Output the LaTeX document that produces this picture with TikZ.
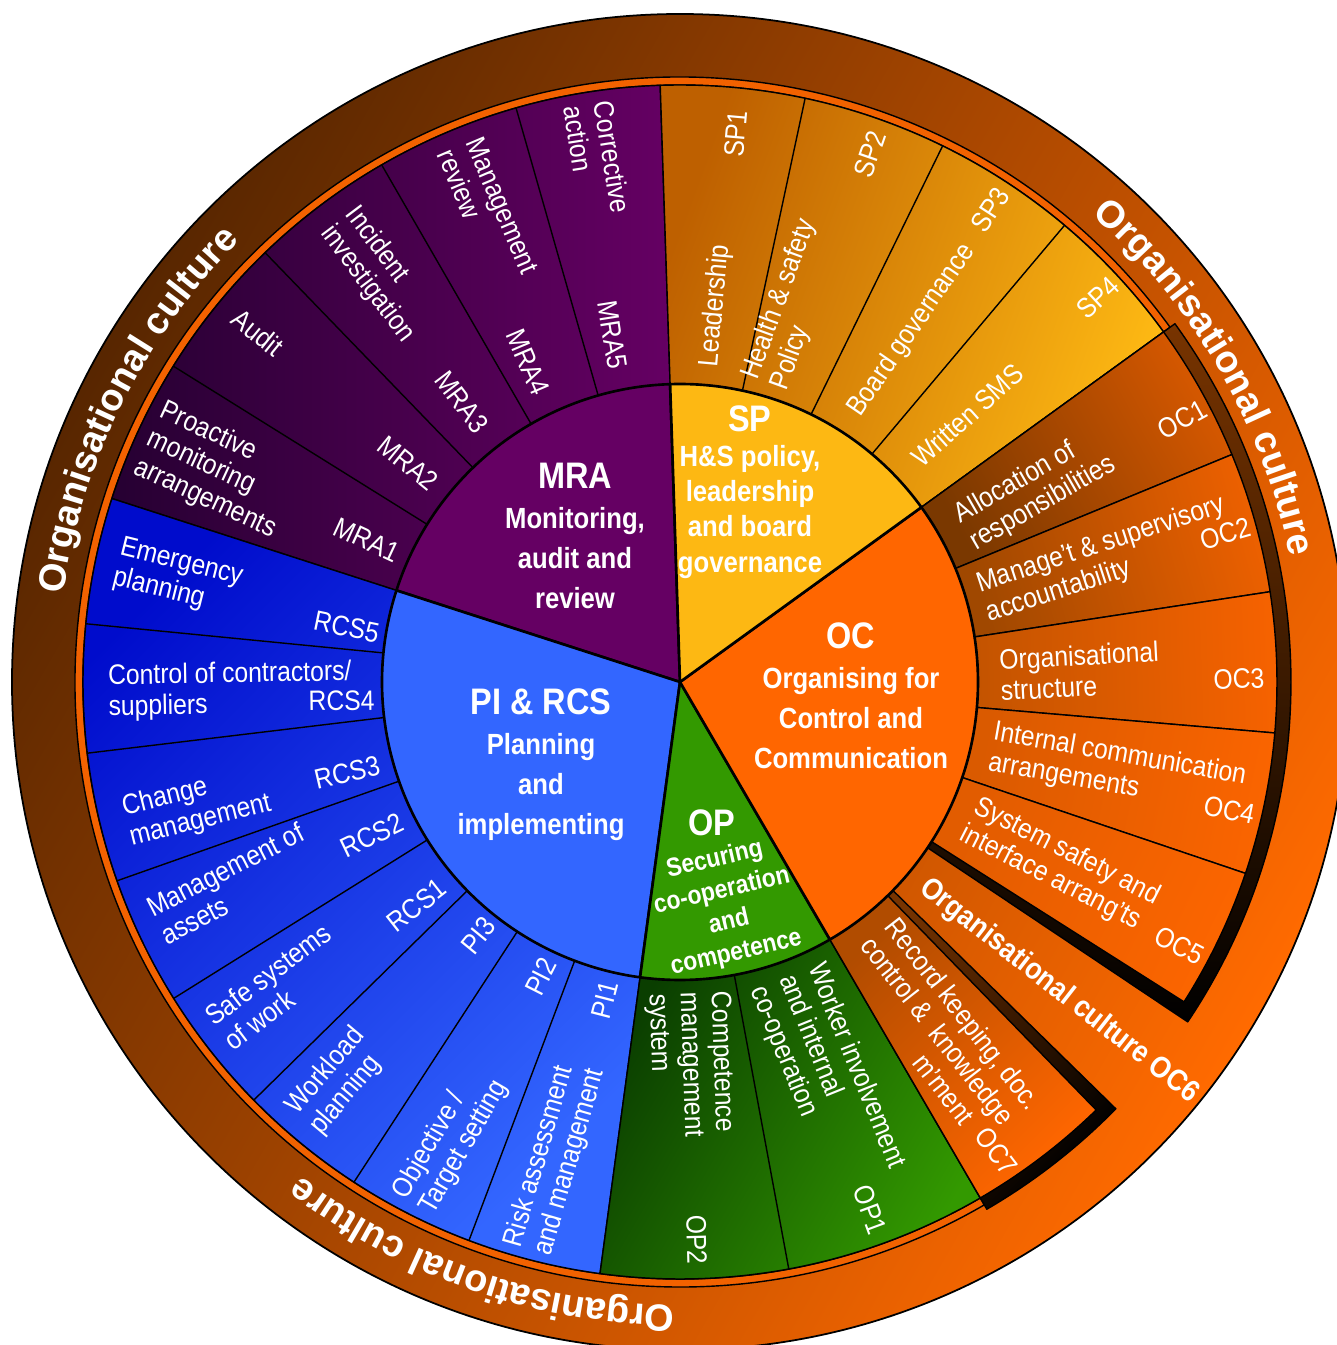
\documentclass[tikz,border=0pt]{standalone}
\usepackage{fontspec}
\setmainfont{Liberation Sans}
\newfontfamily\ringfont[FakeStretch=0.88]{Liberation Sans}
\newfontfamily\corefont[FakeStretch=0.88]{Liberation Sans}
\newfontfamily\arcfont{Liberation Sans}
\usepackage{tikz}
\usetikzlibrary{decorations.text}

\definecolor{mraPurple}{RGB}{101,0,99}
\definecolor{mraDark}{RGB}{38,0,50}
\definecolor{spAmber}{RGB}{253,184,19}
\definecolor{spDark}{RGB}{190,96,0}
\definecolor{ocOrange}{RGB}{255,102,0}
\definecolor{ocDark}{RGB}{125,58,0}
\definecolor{ocShadow}{RGB}{120,52,0}
\definecolor{ocIn1}{RGB}{122,56,0}
\definecolor{ocOut1}{RGB}{214,88,0}
\definecolor{ocIn2}{RGB}{160,72,0}
\definecolor{ocOut2}{RGB}{236,96,0}
\definecolor{ocIn3}{RGB}{196,84,0}
\definecolor{ocOut3}{RGB}{246,98,0}
\definecolor{ocIn4}{RGB}{218,90,0}
\definecolor{ocOut4}{RGB}{250,100,0}
\definecolor{ocIn5}{RGB}{226,92,0}
\definecolor{ocOut5}{RGB}{252,101,0}
\definecolor{opGreen}{RGB}{51,153,0}
\definecolor{opDark}{RGB}{10,62,0}
\definecolor{piBlue}{RGB}{51,102,255}
\definecolor{piDark}{RGB}{0,12,204}
\definecolor{cultDark}{RGB}{88,38,0}
\definecolor{cultLight}{RGB}{255,106,0}
\definecolor{rimOrange}{RGB}{242,98,0}

\newcommand\coretitle[1]{{\fontsize{10.5pt}{11.4pt}\selectfont #1}}
\newcommand\cultfont{\arcfont\bfseries\fontsize{10.8pt}{12pt}\selectfont}

\begin{document}
\begin{tikzpicture}[line join=round,
    rim/.style={draw=black, line width=0.75pt},
    divider/.style={draw=black, line width=0.4pt},
    core/.style={text=white, align=center, inner sep=0pt,
      font=\corefont\bfseries\fontsize{8.3pt}{11.4pt}\selectfont},
    slice/.style={text=white, align=left, inner sep=0pt,
      font=\ringfont\fontsize{8pt}{8.8pt}\selectfont},
    code/.style={text=white, inner sep=0pt,
      font=\ringfont\fontsize{8pt}{8.8pt}\selectfont},
    culture/.style={decorate, decoration={text along path, text align=center,
      text color=white, text={|\cultfont|Organisational culture}}}]

  \useasboundingbox (-6.80,-6.63) rectangle (6.56,6.82);

  % outer ring
  \shadedraw[top color=cultDark, bottom color=cultLight, shading angle=60, line width=0.5pt]
    (0,0) circle[radius=6.68];
  \filldraw[fill=rimOrange, line width=0.4pt]
    (35.9:6.05) arc[start angle=35.9, end angle=300.2, radius=6.05]
    -- (300.2:5.97) arc[start angle=300.2, end angle=35.9, radius=5.97] -- cycle;
  \path[culture] (183.4:6.23) arc[start angle=183.4, end angle=123.4, radius=6.23];
  \path[culture] (60.1:6.23) arc[start angle=60.1, end angle=0.1, radius=6.23];
  \path[culture] (-79:6.23) arc[start angle=-79, end angle=-139, radius=6.23];

  % middle ring
  \shadedraw[top color=mraDark, bottom color=mraPurple, shading angle=90, divider]
    (91.9:2.98) -- (91.9:5.97) arc[start angle=91.9, end angle=162.1, radius=5.97]
    -- (162.1:2.98) arc[start angle=162.1, end angle=91.9, radius=2.98] -- cycle;
  \shadedraw[top color=spDark, bottom color=spAmber, shading angle=70, divider]
    (35.9:2.98) -- (35.9:5.97) arc[start angle=35.9, end angle=91.9, radius=5.97]
    -- (91.9:2.98) arc[start angle=91.9, end angle=35.9, radius=2.98] -- cycle;
  \shadedraw[top color=piDark, bottom color=piBlue, shading angle=45, divider]
    (162.1:2.98) -- (162.1:5.97) arc[start angle=162.1, end angle=262.3, radius=5.97]
    -- (262.3:2.98) arc[start angle=262.3, end angle=162.1, radius=2.98] -- cycle;
  \shadedraw[top color=opDark, bottom color=opGreen, shading angle=60, divider]
    (262.3:2.98) -- (262.3:5.97) arc[start angle=262.3, end angle=300.2, radius=5.97]
    -- (300.2:2.98) arc[start angle=300.2, end angle=262.3, radius=2.98] -- cycle;
  % shadows round the OC blocks
  \shadedraw[top color=ocShadow, bottom color=black, divider]
    (35.9:2.98) -- (35.9:6.11) arc[start angle=35.9, end angle=-33.8, radius=6.11]
    -- (-33.8:2.98) arc[start angle=-33.8, end angle=35.9, radius=2.98] -- cycle;
  \shadedraw[top color=ocShadow, bottom color=black, shading angle=45, divider]
    (-44.4:2.98) -- (-44.4:6.10) arc[start angle=-44.4, end angle=-59.8, radius=6.10]
    -- (-59.8:2.98) arc[start angle=-59.8, end angle=-44.4, radius=2.98] -- cycle;
  \foreach \a/\b/\s/\i in {35.9/22.4/119.2/1, 22.4/8.7/105.6/2, 8.7/-4.9/91.9/3,
      -4.9/-18.7/78.2/4, -18.7/-32.4/64.5/5}
    \shadedraw[top color=ocIn\i, bottom color=ocOut\i, shading angle=\s, divider]
      (\a:2.98) -- (\a:5.97) arc[start angle=\a, end angle=\b, radius=5.97]
      -- (\b:2.98) arc[start angle=\b, end angle=\a, radius=2.98] -- cycle;
  \shadedraw[top color=ocDark!60!ocOrange, bottom color=ocOrange, shading angle=45, divider]
    (-45.8:2.98) -- (-45.8:5.97) arc[start angle=-45.8, end angle=-59.8, radius=5.97]
    -- (-59.8:2.98) arc[start angle=-59.8, end angle=-45.8, radius=2.98] -- cycle;

  \foreach \a in {105.94,119.98,134.02,148.06, 77.9,63.9,49.9, -79.5,
      174.4,186.85,199.45,212,224.45,236.9,249.3}
    \draw[divider] (\a:2.98) -- (\a:5.97);

  % centre
  \filldraw[fill=mraPurple, rim] (0,0) -- (91.9:2.98) arc[start angle=91.9, end angle=162.1, radius=2.98] -- cycle;
  \filldraw[fill=piBlue, rim] (0,0) -- (162.1:2.98) arc[start angle=162.1, end angle=262.3, radius=2.98] -- cycle;
  \filldraw[fill=opGreen, rim] (0,0) -- (262.3:2.98) arc[start angle=262.3, end angle=300.2, radius=2.98] -- cycle;
  \filldraw[fill=ocOrange, rim] (0,0) -- (300.2:2.98) arc[start angle=300.2, end angle=395.9, radius=2.98] -- cycle;
  \filldraw[fill=spAmber, rim] (0,0) -- (35.9:2.98) arc[start angle=35.9, end angle=91.9, radius=2.98] -- cycle;

  \node[core] (mra) at (-1.05,1.46) {\coretitle{MRA}\\Monitoring,\\audit and\\review};
  \node[core, font=\corefont\bfseries\fontsize{8.3pt}{10pt}\selectfont] (sp) at (0.70,1.90)
    {\coretitle{SP}\\H\&S policy,\\leadership\\and board\\governance};
  \node[core] (oc) at (1.71,-0.14) {\coretitle{OC}\\Organising for\\Control and\\Communication};
  \node[core] (pircs) at (-1.39,-0.83) {\coretitle{PI \& RCS}\\Planning\\and\\implementing};
  \node[core] (op) at (0.32,-1.41) {\coretitle{OP}};
  \node[core, rotate=13, font=\corefont\bfseries\fontsize{7.4pt}{9.1pt}\selectfont] (opsub)
    at (0.455,-2.245) {Securing\\co-operation\\and\\competence};

  % MRA
  \node[slice, rotate=-24.9] (mra1t) at (155.4:5.08) {Proactive\\monitoring\\arrangements};
  \node[code, rotate=-24.9] (mra1) at (155.6:3.44) {MRA1};
  \node[slice, rotate=-39] (mra2t) at (140.4:5.48) {Audit};
  \node[code, rotate=-39] (mra2) at (141.2:3.49) {MRA2};
  \node[slice, rotate=-53] (mra3t) at (126.4:5.06) {Incident\\investigation};
  \node[code, rotate=-53] (mra3) at (127.9:3.55) {MRA3};
  \node[slice, rotate=-67] (mra4t) at (112.2:5.08) {Management\\review};
  \node[code, rotate=-67] (mra4) at (115.4:3.54) {MRA4};
  \node[slice, rotate=-81.1] (mra5t) at (99:5.29) {Corrective\\action};
  \node[code, rotate=-81.1] (mra5) at (101:3.54) {MRA5};
  % SP
  \node[slice, rotate=84.9] (sp1t) at (84.6:3.78) {Leadership};
  \node[code, rotate=84.9] (sp1) at (84.2:5.51) {SP1};
  \node[slice, rotate=70] (sp2t) at (73.2:3.94) {Health \& safety\\Policy};
  \node[code, rotate=70.9] (sp2) at (70.2:5.61) {SP2};
  \node[slice, rotate=55.5] (sp3t) at (56.6:4.21) {Board governance};
  \node[code, rotate=56.9] (sp3) at (56.7:5.65) {SP3};
  \node[slice, rotate=42] (sp4t) at (42.9:3.92) {Written SMS};
  \node[code, rotate=42.9] (sp4) at (42.6:5.68) {SP4};
  % OC
  \node[slice, rotate=30] (oc1t) at (28.4:4.04) {Allocation of\\responsibilities};
  \node[code, rotate=29] (oc1) at (27.6:5.67) {OC1};
  \node[slice, rotate=18] (oc2t) at (16:4.43) {Manage’t \& supervisory\\accountability};
  \node[code, rotate=16] (oc2) at (15.2:5.65) {OC2};
  \node[slice, rotate=3] (oc3t) at (1.6:4.00) {Organisational\\structure};
  \node[code, rotate=2] (oc3) at (0.3:5.59) {OC3};
  \node[slice, rotate=-10] (oc4t) at (-11.4:4.46) {Internal communication\\arrangements};
  \node[code, rotate=-11.7] (oc4) at (-13.1:5.64) {OC4};
  \node[slice, rotate=-27] (oc5t) at (-25.8:4.22) {System safety and\\interface arrang’ts};
  \node[code, rotate=-27] (oc5) at (-27.8:5.65) {OC5};
  \node[core, rotate=-38, font=\corefont\bfseries\fontsize{8.6pt}{10pt}\selectfont] (oc6t)
    at (-39.2:4.89) {Organisational culture OC6};
  \node[slice, rotate=-52] (oc7t) at (-53.5:4.36)
    {Record keeping, doc.\\control \& \ knowledge\\\hspace*{4.4em}m’ment};
  \node[code, rotate=-52.8] (oc7) at (-56:5.66) {OC7};
  % OP
  \node[slice, rotate=-68] (op1t) at (-69.6:4.22) {Worker involvement\\and internal\\co-operation};
  \node[code, rotate=-69.6] (op1) at (-70.2:5.61) {OP1};
  \node[slice, rotate=-88] (op2t) at (-88.5:3.83) {Competence\\management\\system};
  \node[code, rotate=-88.6] (op2) at (-88.3:5.58) {OP2};
  % PI & RCS
  \node[slice, rotate=-14] (rcs5t) at (168.3:5.13) {Emergency\\planning};
  \node[code, rotate=-11.7] (rcs5) at (170.6:3.38) {RCS5};
  \node[slice, rotate=1] (rcs4t) at (181.1:4.50) {Control of contractors/\\suppliers};
  \node[code, rotate=0.6] (rcs4) at (183.2:3.39) {RCS4};
  \node[slice, rotate=14] (rcs3t) at (194.4:4.99) {Change\\management};
  \node[code, rotate=13.2] (rcs3) at (195.2:3.45) {RCS3};
  \node[slice, rotate=27] (rcs2t) at (204.2:4.91) {Management of\\assets};
  \node[code, rotate=25.7] (rcs2) at (206.5:3.44) {RCS2};
  \node[slice, rotate=37] (rcs1t) at (217.1:5.05) {Safe systems\\of work};
  \node[code, rotate=38.2] (rcs1) at (220.3:3.45) {RCS1};
  \node[slice, rotate=50] (pi3t) at (229.4:5.26) {Workload\\planning};
  \node[code, rotate=50.7] (pi3) at (231.5:3.24) {PI3};
  \node[slice, rotate=60] (pi2t) at (243.4:5.12) {Objective /\\Target setting};
  \node[code, rotate=63.1] (pi2) at (244.7:3.26) {PI2};
  \node[slice, rotate=74] (pi1t) at (255.3:4.92) {Risk assessment\\and management};
  \node[code, rotate=75.5] (pi1) at (256.7:3.27) {PI1};
\end{tikzpicture}
\end{document}
